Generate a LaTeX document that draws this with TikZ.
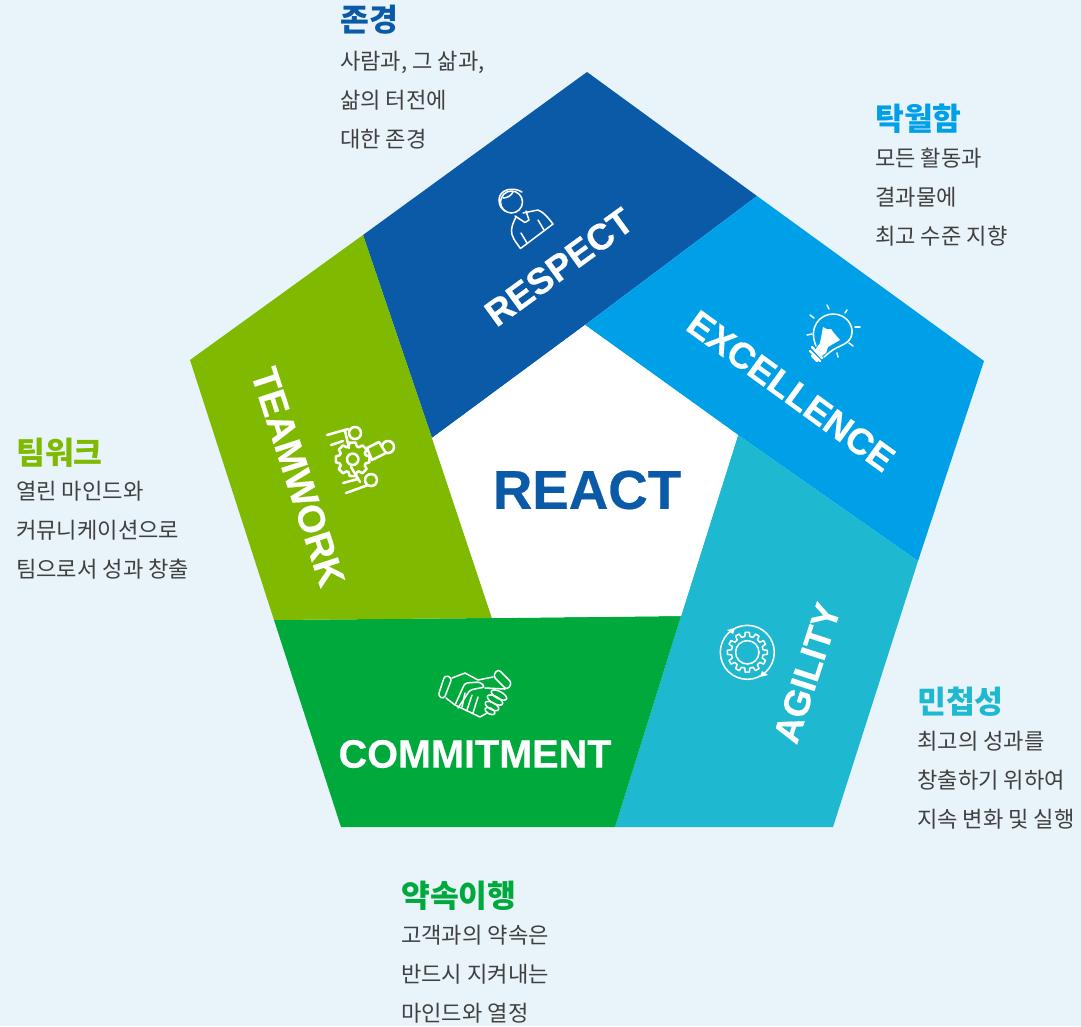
\documentclass[tikz,border=0pt]{standalone}
\usepackage{fontspec}
\setmainfont{Noto Sans CJK KR}
\newfontfamily\labelfont[BoldFeatures={FakeBold=0.5}]{Liberation Sans}
\usepackage{tikz}
\usetikzlibrary{arrows.meta}
\definecolor{bgblue}{HTML}{E8F3FA}
\definecolor{respectblue}{HTML}{0A5AA8}
\definecolor{excelblue}{HTML}{00A0E9}
\definecolor{agilecyan}{HTML}{1FB8D1}
\definecolor{commitgreen}{HTML}{00A93C}
\definecolor{teamgreen}{HTML}{7FBA00}
\definecolor{bodygray}{HTML}{404040}

\begin{document}
\begin{tikzpicture}[x=0.75pt, y=-0.75pt,
    main/.style = {font=\labelfont\bfseries\fontsize{29.7}{30}\selectfont, text=white, inner sep=0},
    turned/.style = {main, font=\labelfont\bfseries\fontsize{27.4}{30}\selectfont},
    heading/.style = {anchor=west, inner sep=0, font=\bfseries\fontsize{23.5}{26}\selectfont},
    blurb/.style = {anchor=west, inner sep=0, align=left, text=bodygray, font=\fontsize{16.6}{29.25}\selectfont},
    icon/.style = {draw=white, line width=1.15pt, line cap=round, line join=round},
    teamline/.style = {icon, line width=1.9pt}]
    \useasboundingbox (0,0) rectangle (1081,1026);
    \fill [bgblue] (0,0) rectangle (1081,1026);

    % pentagon pieces
    \fill [respectblue] (587,72) -- (757,196) -- (585,325) -- (432,438) -- (363,235) -- cycle;
    \fill [excelblue] (757,196) -- (984,361) -- (918,561) -- (738,435) -- (585,325) -- cycle;
    \fill [agilecyan] (918,561) -- (833,827) -- (615,827) -- (681,616) -- (738,435) -- cycle;
    \fill [commitgreen] (681,616) -- (615,827) -- (341,827) -- (274,620) -- (492,618) -- cycle;
    \fill [teamgreen] (363,235) -- (432,438) -- (492,618) -- (274,620) -- (190,360) -- cycle;
    \fill [white] (585,325) -- (738,435) -- (681,616) -- (492,618) -- (432,438) -- cycle;

    \node [main, text=respectblue, font=\labelfont\bfseries\fontsize{41}{44}\selectfont] (react) at (587,490) {REACT};
    \node [turned, rotate=36] (respect) at (559,267) {RESPECT};
    \node [turned, rotate=-36] (excellence) at (791,391) {EXCELLENCE};
    \node [turned, rotate=72] (agility) at (807,673) {AGILITY};
    \node [main] (commitment) at (475,754) {COMMITMENT};
    \node [turned, font=\labelfont\bfseries\fontsize{28.4}{30}\selectfont, rotate=-72] (teamwork) at (298,477) {TEAMWORK};

    \node [heading, text=respectblue] (respecthead) at (340,20) {존경};
    \node [blurb] (respecttext) at (340,100) {사람과, 그 삶과,\\삶의 터전에\\대한 존경};
    \node [heading, text=excelblue] (excelhead) at (875,119) {탁월함};
    \node [blurb] (exceltext) at (875,197) {모든 활동과\\결과물에\\최고 수준 지향};
    \node [heading, text=agilecyan] (agilehead) at (917,702) {민첩성};
    \node [blurb] (agiletext) at (917,780) {최고의 성과를\\창출하기 위하여\\지속 변화 및 실행};
    \node [heading, text=commitgreen] (commithead) at (401,896) {약속이행};
    \node [blurb] (committext) at (401,974) {고객과의 약속은\\반드시 지켜내는\\마인드와 열정};
    \node [heading, text=teamgreen] (teamhead) at (16,453) {팀워크};
    \node [blurb] (teamtext) at (16,530) {열린 마인드와\\커뮤니케이션으로\\팀으로서 성과 창출};

    % person icon
    \draw [icon] (511.5,202) circle (11);
    \draw [icon] (522,192) .. controls (512,186) and (499,190) .. (499,200) .. controls (499,206) and (502,209) .. (505,211);
    \draw [icon] (503,198) .. controls (507,198) and (511,196) .. (513,192);
    \draw [icon] (523,213) -- (538,210) .. controls (544,212) and (549,219) .. (553,224) -- (520.5,248.5) .. controls (515,241) and (511,236) .. (511.5,230) .. controls (512,225) and (514,221) .. (516,217);
    \draw [icon] (515,216) -- (525,222.5) -- (529,220) -- (526,211);
    \draw [icon] (538,220) -- (544,230);
    \draw [icon] (521,233) -- (527,243);

    % bulb icon
    \draw [icon] (816,346) .. controls (808,327) and (820,314) .. (833,314) .. controls (846,314) and (853,325) .. (852,333) .. controls (851,345) and (838,345) .. (830,352) -- (824,357);
    \fill [white] (823,327) -- (827,329) -- (831,329) -- (834,333) -- (840,340) -- (828,347) -- (826,353) -- (820,357) -- (815,350) -- (820,343) -- cycle;
    \draw [icon, line width=1.8pt] (812,347) -- (822,358);
    \draw [icon, line width=1.8pt] (810,351) -- (820,361);
    \draw [icon, line width=1.8pt] (812,356) -- (817,361);
    \draw [icon] (827,305) -- (829,309);
    \draw [icon] (847,310) -- (845,313);
    \draw [icon] (855,327) -- (860,327);
    \draw [icon] (849,343) -- (853,346);
    \draw [icon] (837,353) -- (838,357);
    \draw [icon] (810,315) -- (814,318);
    \draw [icon] (807,335) -- (812,334);

    % team icon
    \draw [teamline] (352.7,459.3) circle (5.7);
    \draw [teamline] ({352.7+17*cos(-10)},{459.3+17*sin(-10)}) \foreach \a in {0,45,...,315} {
        -- ({352.7+17*cos(\a-10)},{459.3+17*sin(\a-10)}) -- ({352.7+17*cos(\a+10)},{459.3+17*sin(\a+10)}) -- ({352.7+13.5*cos(\a+18)},{459.3+13.5*sin(\a+18)}) -- ({352.7+13.5*cos(\a+27)},{459.3+13.5*sin(\a+27)})} -- cycle;
    \draw [teamline, fill=teamgreen] (355,433) circle (6);
    \draw [teamline, fill=teamgreen] (388,447) circle (6);
    \draw [teamline, fill=teamgreen] (371,480) circle (6);
    \draw [teamline] (327,435) -- (348,429);
    \draw [teamline] (345,431) -- (349,448);
    \draw [teamline] (331,445) -- (343,441);
    \draw [teamline, fill=teamgreen] (367,448) -- (379,442) -- (386,453) -- (372,460) -- cycle;
    \draw [teamline] (343,483) -- (358,479);
    \draw [teamline] (346,493) -- (368,485);
    \draw [teamline] (351,467) -- (360,482);

    % handshake icon
    \draw [icon, rounded corners=2.5pt] (445,675) -- (452,678) -- (444,699) -- (438,696) -- cycle;
    \draw [icon, rounded corners=2.5pt] (498,669) -- (512,683) -- (507,690) -- (493,676) -- cycle;
    \draw [icon] (452,678) -- (465,673) -- (478,680) -- (493,677);
    \draw [icon] (446,698) -- (455,705) -- (480,717) -- (487,713);
    \draw [icon, rounded corners=2pt] (455,705) -- (465,683) -- (480,682) -- (485,687) -- (470,690) -- (458,708);
    \draw [icon] (465,693) -- (462,707);
    \draw [icon] (472,695) -- (467,710);
    \draw [icon] (478,697) -- (473,713);
    \draw [icon] (485,688) -- (505,689);
    \draw [icon, rotate around={-28:(499,695)}] (499,695) ellipse (8.5 and 3.6);
    \draw [icon, rotate around={-28:(495,700)}] (495,700) ellipse (8.5 and 3.6);
    \draw [icon, rotate around={-28:(492,706)}] (492,706) ellipse (7.5 and 3.4);
    \draw [icon, rotate around={-28:(490,711)}] (490,711) ellipse (5.5 and 3);

    % agility icon
    \draw [icon] (747.3,652.3) circle (11.7);
    \draw [icon] (747.3,652.3) circle (27);
    \draw [icon] (747.3,652.3) ++(0:20) \foreach \a in {0,30,...,330} {
        -- ({747.3+20*cos(\a+6)},{652.3+20*sin(\a+6)}) -- ({747.3+16*cos(\a+9)},{652.3+16*sin(\a+9)}) -- ({747.3+16*cos(\a+21)},{652.3+16*sin(\a+21)}) -- ({747.3+20*cos(\a+24)},{652.3+20*sin(\a+24)})} -- cycle;
    \fill [white] (735,628) -- (733,634) -- (727,630) -- cycle;
    \fill [white] (760,677) -- (762,671) -- (768,675) -- cycle;
\end{tikzpicture}
\end{document}
